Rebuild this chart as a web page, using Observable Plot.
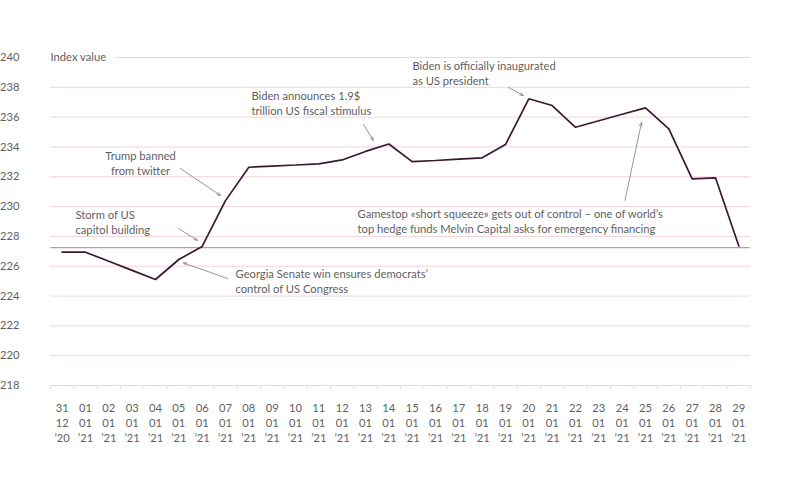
<!DOCTYPE html>
<html>
<head>
<meta charset="utf-8">
<script src="https://cdn.jsdelivr.net/npm/d3@7"></script>
<script src="https://cdn.jsdelivr.net/npm/@observablehq/plot@0.6"></script>
<style>
  html, body { margin: 0; padding: 0; background: #fff; }
  #chart { width: 800px; height: 490px; }
</style>
</head>
<body>
<div id="chart"></div>
<script>
// Category labels (day / month / year)
const dayLabels = [
  "31\n12\n’20", "01\n01\n’21", "02\n01\n’21", "03\n01\n’21", "04\n01\n’21",
  "05\n01\n’21", "06\n01\n’21", "07\n01\n’21", "08\n01\n’21", "09\n01\n’21",
  "10\n01\n’21", "11\n01\n’21", "12\n01\n’21", "13\n01\n’21", "14\n01\n’21",
  "15\n01\n’21", "16\n01\n’21", "17\n01\n’21", "18\n01\n’21", "19\n01\n’21",
  "20\n01\n’21", "21\n01\n’21", "22\n01\n’21", "23\n01\n’21", "24\n01\n’21",
  "25\n01\n’21", "26\n01\n’21", "27\n01\n’21", "28\n01\n’21", "29\n01\n’21"
];

// Index values
const indexValues = [
  226.94, 226.94, 226.33, 225.72, 225.11,
  226.45, 227.33, 230.4, 232.64, 232.72,
  232.79, 232.87, 233.13, 233.7, 234.2,
  233.02, 233.09, 233.18, 233.27, 234.16,
  237.23, 236.78, 235.32, 235.76, 236.19,
  236.62, 235.21, 231.86, 231.93, 227.35
];

// Y ticks
const yTicks = [218, 220, 222, 224, 226, 228, 230, 232, 234, 236, 238, 240];
const referenceValue = [227.25];
const yAxisTitle = "Index value";

// Annotations: text anchor (index, value), arrow from -> to (index, value)
const noteTexts = [
  "Storm of US\ncapitol building",
  "Trump banned\nfrom twitter",
  "Georgia Senate win ensures democrats’\ncontrol of US Congress",
  "Biden announces 1.9$\ntrillion US fiscal stimulus",
  "Biden is officially inaugurated\nas US president",
  "Gamestop «short squeeze» gets out of control – one of world’s\ntop hedge funds Melvin Capital asks for emergency financing"
];
const noteX = [0.57, 3.36, 7.43, 8.11, 15.01, 12.66];
const noteY = [228.97, 232.96, 225.01, 236.95, 238.99, 229.03];
const noteAnchor = ["start", "middle", "start", "start", "start", "start"];
const arrowX1 = [4.99, 5.07, 7.09, 12.91, 19.13, 24.12];
const arrowY1 = [228.53, 232.55, 225.18, 235.51, 237.99, 230.41];
const arrowX2 = [5.80, 6.79, 5.20, 13.34, 19.77, 24.83];
const arrowY2 = [227.73, 230.74, 226.22, 234.43, 237.45, 235.64];

const series = indexValues.map((v, i) => ({i, v}));
const notes = noteTexts.map((t, k) => ({
  t, x: noteX[k], y: noteY[k], anchor: noteAnchor[k],
  x1: arrowX1[k], y1: arrowY1[k], x2: arrowX2[k], y2: arrowY2[k]
}));
const boundaries = d3.range(dayLabels.length + 1).map(i => i - 0.5);

const grid = "#f5d3db";
const textColor = "#5f5f5f";
const fontSize = 11.2;

const chart = Plot.plot({
  width: 800,
  height: 490,
  marginLeft: 50,
  marginRight: 50,
  marginTop: 57,
  marginBottom: 105,
  style: {fontFamily: "Lato, 'Noto Sans', sans-serif", fontSize: fontSize + "px", color: textColor, background: "#fff"},
  x: {type: "linear", domain: [-0.5, dayLabels.length - 0.5]},
  y: {domain: [218, 240]},
  marks: [
    Plot.ruleY(yTicks, {stroke: grid, strokeWidth: 1}),
    Plot.ruleY(referenceValue, {stroke: "#d9909d", strokeWidth: 1.3}),
    Plot.axisX(boundaries, {tickSize: 4, stroke: grid, tickFormat: () => "", label: null}),
    Plot.axisX(d3.range(dayLabels.length), {
      tickSize: 0, tickPadding: 16, tickFormat: i => dayLabels[i],
      lineHeight: 1.33, fill: textColor, fontSize, label: null
    }),
    Plot.axisY(yTicks, {tickSize: 0, tickPadding: 31, fill: textColor, fontSize, label: null}),
    Plot.text([yAxisTitle], {
      x: -0.5, y: 240, text: d => d, textAnchor: "start", fill: textColor,
      stroke: "#fff", strokeWidth: 18, fontSize
    }),
    Plot.line(series, {x: "i", y: "v", stroke: "#3a1733", strokeWidth: 1.7, strokeLinejoin: "miter"}),
    Plot.arrow(notes, {
      x1: "x1", y1: "y1", x2: "x2", y2: "y2",
      stroke: "#8a8a8a", strokeWidth: 0.9, headLength: 6, headAngle: 40
    }),
    Plot.text(notes.filter(d => d.anchor === "start"), {
      x: "x", y: "y", text: "t", textAnchor: "start",
      lineHeight: 1.35, fill: textColor, fontSize
    }),
    Plot.text(notes.filter(d => d.anchor === "middle"), {
      x: "x", y: "y", text: "t", textAnchor: "middle",
      lineHeight: 1.35, fill: textColor, fontSize
    })
  ]
});
document.getElementById("chart").appendChild(chart);
</script>
</body>
</html>
